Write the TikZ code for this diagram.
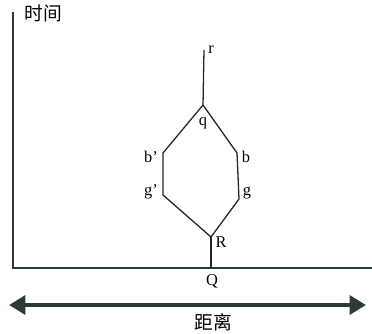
\documentclass[tikz,border=0pt]{standalone}
\usepackage{fontspec}
\setmainfont{Liberation Serif}
\newfontfamily\cjk{Noto Sans CJK SC}
\usetikzlibrary{arrows.meta}
\definecolor{slate}{RGB}{45,58,58}
\tikzset{
  lbl/.style={inner sep=0pt,font=\fontsize{14}{17}\selectfont},
  hanzi/.style={inner sep=0pt,font=\cjk\fontsize{16}{18}\selectfont},
  path/.style={line width=1.1pt,black!85},
  axis/.style={line width=1.1pt,slate}
}
\begin{document}
\begin{tikzpicture}[x=0.03cm,y=-0.03cm]
  \useasboundingbox (0,0) rectangle (372,333);
  % axes
  \coordinate (top) at (13,12);
  \coordinate (O) at (13,268);
  \coordinate (right) at (372,268);
  \draw[axis] (top) -- (O) -- (right);
  \node[hanzi] (time) at (43,13) {时间};
  % worldlines
  \coordinate (r) at (204,50);
  \coordinate (q) at (203,105);
  \coordinate (bl) at (163,153);
  \coordinate (gl) at (163,195);
  \coordinate (br) at (237,153);
  \coordinate (gr) at (239,199);
  \coordinate (R) at (211,237);
  \coordinate (Q) at (211,268);
  \draw[path] (r) -- (q);
  \draw[path] (q) -- (bl) -- (gl) -- (R);
  \draw[path] (q) -- (br) -- (gr) -- (R);
  \draw[path] (R) -- (Q);
  \node[lbl] (lr) at (211,50) {r};
  \node[lbl] (lq) at (203,123) {q};
  \node[lbl] (lbl) at (151,157) {b’};
  \node[lbl] (lbr) at (246,157) {b};
  \node[lbl] (lgl) at (151,192) {g’};
  \node[lbl] (lgr) at (247,193) {g};
  \node[lbl] (lR) at (221,242) {R};
  \node[lbl] (lQ) at (212,281) {Q};
  % distance arrow
  \coordinate (al) at (9,305);
  \coordinate (ar) at (366,305);
  \draw[line width=3.5pt,slate,{Triangle[length=14pt,width=16pt]}-{Triangle[length=14pt,width=16pt]}] (al) -- (ar);
  \node[hanzi] (dist) at (213,322) {距离};
\end{tikzpicture}
\end{document}
